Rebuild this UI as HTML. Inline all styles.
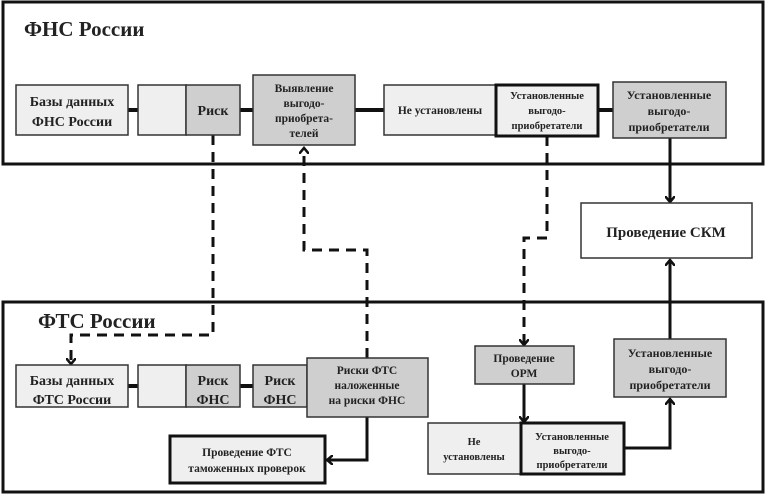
<!DOCTYPE html>
<html><head><meta charset="utf-8"><style>
body{margin:0;background:#fff;width:766px;height:495px;overflow:hidden}
svg text{font-family:"Liberation Serif","Noto Serif CJK SC",serif;font-weight:bold;fill:#222}
</style></head><body>
<svg width="766" height="495" viewBox="0 0 766 495" xmlns="http://www.w3.org/2000/svg">
<defs>
<marker id="a" markerWidth="10" markerHeight="10" refX="5" refY="5" orient="auto" markerUnits="userSpaceOnUse">
<path d="M0,0 L6,5 L0,10" fill="none" stroke="#111" stroke-width="2.5"/></marker>
</defs>
<g fill="none" stroke="#111" stroke-width="3">
<rect x="3" y="2" width="760" height="162"/>
<rect x="3" y="302" width="760" height="190"/>
</g>
<text x="24" y="36" font-size="21">ФНС России</text>
<text x="38" y="328" font-size="21">ФТС России</text>
<!-- solid connectors -->
<g stroke="#111" stroke-width="4" fill="none">
<line x1="128" y1="110" x2="138" y2="110"/>
<line x1="240" y1="110" x2="253" y2="110"/>
<line x1="355" y1="110" x2="384" y2="110"/>
<line x1="598" y1="110" x2="613" y2="110"/>
<line x1="128" y1="386" x2="138" y2="386"/>
<line x1="240" y1="386" x2="253" y2="386"/>
</g>
<g stroke="#111" stroke-width="3" fill="none">
<path d="M670 138 V201" marker-end="url(#a)"/>
<path d="M670 339 V261" marker-end="url(#a)"/>
<path d="M367 417 V460 H328" marker-end="url(#a)"/>
<path d="M524 384 V421" marker-end="url(#a)"/>
<path d="M624 448 H670 V400" marker-end="url(#a)"/>
</g>
<g stroke="#111" stroke-width="3" fill="none" stroke-dasharray="10,7">
<path d="M213 135 V335 H71 V363" marker-end="url(#a)"/>
<path d="M367 358 V250 H304 V149" marker-end="url(#a)"/>
<path d="M547 136 V238 H524 V344" marker-end="url(#a)"/>
</g>
<!-- boxes -->
<g stroke="#333" stroke-width="1.5">
<rect x="16" y="85" width="112" height="50" fill="#efefef"/>
<rect x="138" y="85" width="48" height="50" fill="#efefef"/>
<rect x="186" y="85" width="54" height="50" fill="#cfcfcf"/>
<rect x="253" y="75" width="102" height="70" fill="#cfcfcf"/>
<rect x="384" y="85" width="112" height="50" fill="#efefef"/>
<rect x="613" y="82" width="113" height="56" fill="#cfcfcf"/>
<rect x="581" y="203" width="171" height="55" fill="#fff"/>
<rect x="16" y="365" width="112" height="42" fill="#efefef"/>
<rect x="138" y="365" width="48" height="42" fill="#efefef"/>
<rect x="186" y="365" width="54" height="42" fill="#cfcfcf"/>
<rect x="253" y="365" width="54" height="42" fill="#cfcfcf"/>
<rect x="307" y="358" width="121" height="59" fill="#cfcfcf"/>
<rect x="475" y="346" width="99" height="38" fill="#cfcfcf"/>
<rect x="428" y="423" width="93" height="51" fill="#efefef"/>
<rect x="614" y="339" width="112" height="58" fill="#cfcfcf"/>
</g>
<g stroke="#111" stroke-width="3">
<rect x="496" y="85" width="102" height="51" fill="#efefef"/>
<rect x="170" y="436" width="155" height="47" fill="#efefef"/>
<rect x="521" y="423" width="103" height="51" fill="#efefef"/>
</g>
<g text-anchor="middle">
<text x="72" y="106" font-size="14">Базы данных</text>
<text x="72" y="126" font-size="14">ФНС России</text>
<text x="213" y="115" font-size="14">Риск</text>
<text x="304" y="92" font-size="11.5">Выявление</text>
<text x="304" y="107" font-size="11.5">выгодо-</text>
<text x="304" y="122" font-size="11.5">приобрета-</text>
<text x="304" y="137" font-size="11.5">телей</text>
<text x="440" y="114" font-size="11.5">Не установлены</text>
<text x="547" y="99" font-size="10.5">Установленные</text>
<text x="547" y="114" font-size="10.5">выгодо-</text>
<text x="547" y="129" font-size="10.5">приобретатели</text>
<text x="669" y="99" font-size="12">Установленные</text>
<text x="669" y="115" font-size="12">выгодо-</text>
<text x="669" y="131" font-size="12">приобретатели</text>
<text x="666" y="237" font-size="15">Проведение СКМ</text>
<text x="72" y="385" font-size="14">Базы данных</text>
<text x="72" y="404" font-size="14">ФТС России</text>
<text x="213" y="385" font-size="14">Риск</text>
<text x="213" y="404" font-size="14">ФНС</text>
<text x="280" y="385" font-size="14">Риск</text>
<text x="280" y="404" font-size="14">ФНС</text>
<text x="367" y="374" font-size="11.5">Риски ФТС</text>
<text x="367" y="389" font-size="11.5">наложенные</text>
<text x="367" y="404" font-size="11.5">на риски ФНС</text>
<text x="524" y="362" font-size="11.5">Проведение</text>
<text x="524" y="377" font-size="11.5">ОРМ</text>
<text x="247" y="456" font-size="11.5">Проведение ФТС</text>
<text x="247" y="472" font-size="11.5">таможенных проверок</text>
<text x="474" y="445" font-size="10.5">Не</text>
<text x="474" y="460" font-size="10.5">установлены</text>
<text x="572" y="440" font-size="10.5">Установленные</text>
<text x="572" y="454" font-size="10.5">выгодо-</text>
<text x="572" y="468" font-size="10.5">приобретатели</text>
<text x="670" y="357" font-size="12">Установленные</text>
<text x="670" y="373" font-size="12">выгодо-</text>
<text x="670" y="389" font-size="12">приобретатели</text>
</g>
</svg>
</body></html>
